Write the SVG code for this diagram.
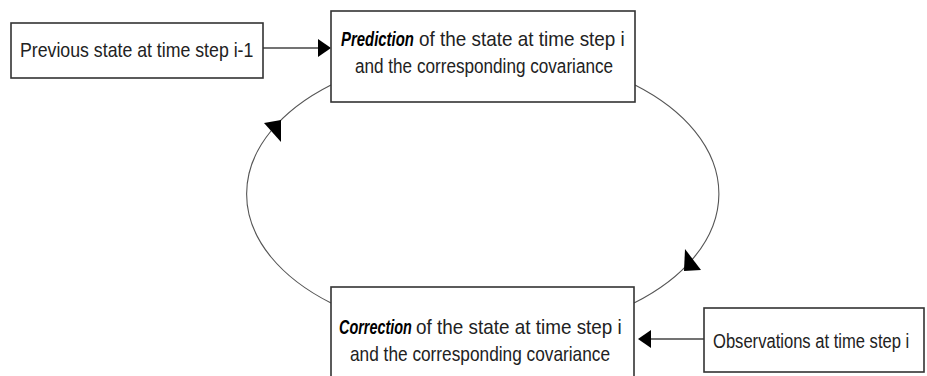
<svg xmlns="http://www.w3.org/2000/svg" width="927" height="376" viewBox="0 0 927 376">
<style>
.box{fill:#fff;stroke:#333;stroke-width:1.6}
.t{font-family:"Liberation Sans",Arial,sans-serif;font-size:21px;fill:#222}
.b{font-weight:bold;font-style:italic;fill:#000}
.ln{fill:none;stroke:#444;stroke-width:1.6}
.cv{fill:none;stroke:#555;stroke-width:1.1}
.ah{fill:#000}
</style>
<rect width="927" height="376" fill="#fff"/>
<g id="connectors">
<path class="cv" d="M331 85 A235 142 0 0 0 331 303"/>
<path class="cv" d="M635 85 A235 142 0 0 1 634 303"/>
<polygon class="ah" points="264,123 281,120 281,142"/>
<polygon class="ah" points="685,249 701,270 684,271"/>
<line class="ln" x1="263" y1="48" x2="320" y2="48"/>
<polygon class="ah" points="331,48 318,39 318,57"/>
<line class="ln" x1="704" y1="339" x2="648" y2="339"/>
<polygon class="ah" points="638,339 651,330 651,348"/>
</g>
<g id="previous">
<rect class="box" x="11" y="23" width="252" height="55"/>
<text class="t" transform="translate(20,57) scale(0.844,1)">Previous state at time step i-1</text>
</g>
<g id="prediction">
<rect class="box" x="331" y="11" width="304" height="91"/>
<text class="t b" transform="translate(341,46) scale(0.711,1)">Prediction</text>
<text class="t" transform="translate(419,46) scale(0.9,1)">of the state at time step i</text>
<text class="t" transform="translate(355,73) scale(0.816,1)">and the corresponding covariance</text>
</g>
<g id="correction">
<rect class="box" x="331" y="287" width="303" height="100"/>
<text class="t b" transform="translate(339,334) scale(0.687,1)">Correction</text>
<text class="t" transform="translate(416,334) scale(0.9,1)">of the state at time step i</text>
<text class="t" transform="translate(350,361) scale(0.822,1)">and the corresponding covariance</text>
</g>
<g id="observations">
<rect class="box" x="704" y="308" width="220" height="64"/>
<text class="t" transform="translate(713,348) scale(0.79,1)">Observations at time step i</text>
</g>
</svg>
